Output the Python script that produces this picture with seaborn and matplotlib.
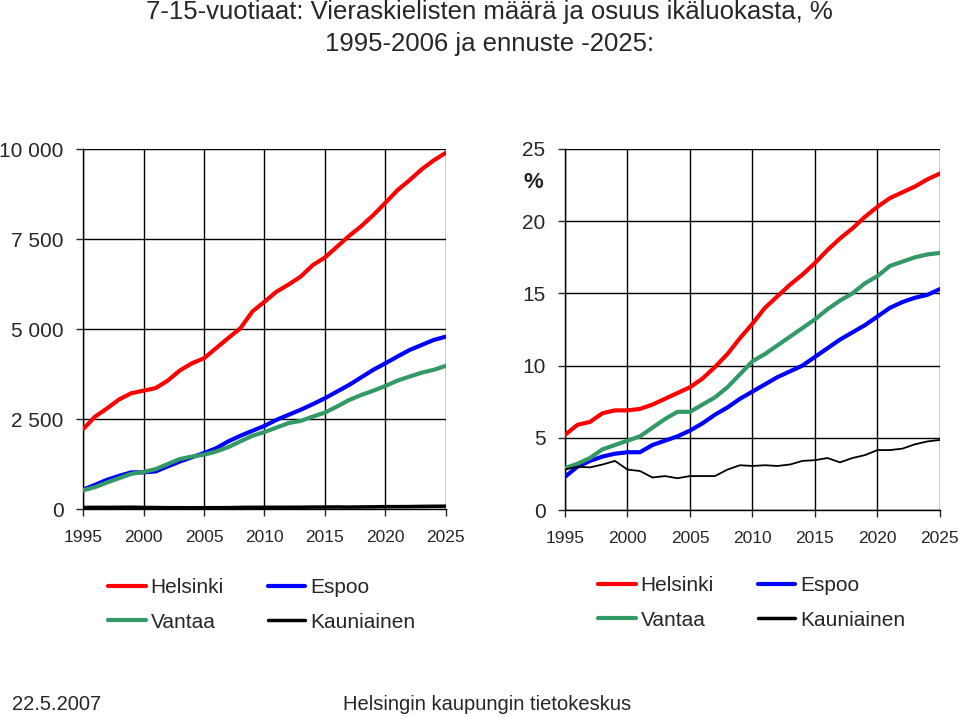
import numpy as np
import pandas as pd
import matplotlib
matplotlib.use("Agg")
import matplotlib.pyplot as plt
import seaborn as sns
from matplotlib.ticker import FuncFormatter

# vuodet
years = list(range(1995, 2026))

# lukumäärät (vasen kuva)
helsinki_n = [2220, 2570, 2800, 3050, 3220, 3290, 3360, 3570, 3850, 4050, 4190,
              4470, 4750, 5020, 5490, 5760, 6040, 6240, 6460, 6780, 6990, 7290,
              7590, 7860, 8170, 8510, 8860, 9140, 9440, 9690, 9900]
espoo_n = [540, 675, 815, 925, 1020, 1020, 1045, 1185, 1320, 1440, 1555, 1690,
           1880, 2035, 2175, 2310, 2480, 2620, 2760, 2915, 3080, 3265, 3450,
           3660, 3870, 4050, 4240, 4420, 4560, 4700, 4790]
vantaa_n = [520, 610, 740, 860, 980, 1030, 1110, 1250, 1390, 1460, 1510, 1600,
            1720, 1880, 2035, 2140, 2265, 2390, 2450, 2570, 2680, 2850, 3030,
            3170, 3290, 3420, 3570, 3680, 3790, 3870, 3980]
kauniainen_n = [45, 48, 47, 50, 53, 45, 44, 38, 39, 37, 39, 39, 40, 46, 50, 50,
                51, 51, 52, 56, 57, 59, 55, 60, 63, 68, 68, 70, 75, 78, 80]

# osuus ikäluokasta, % (oikea kuva)
helsinki_p = [5.2, 5.9, 6.1, 6.7, 6.9, 6.9, 7.0, 7.3, 7.7, 8.1, 8.5, 9.1, 9.9,
              10.8, 11.9, 12.9, 14.0, 14.8, 15.6, 16.3, 17.1, 18.0, 18.8, 19.5,
              20.3, 21.0, 21.6, 22.0, 22.4, 22.9, 23.3]
espoo_p = [2.3, 3.0, 3.4, 3.7, 3.9, 4.0, 4.0, 4.5, 4.8, 5.1, 5.5, 6.0, 6.6, 7.1,
           7.7, 8.2, 8.7, 9.2, 9.6, 10.0, 10.6, 11.2, 11.8, 12.3, 12.8, 13.4,
           14.0, 14.4, 14.7, 14.9, 15.3]
vantaa_p = [2.9, 3.2, 3.6, 4.2, 4.5, 4.8, 5.1, 5.7, 6.3, 6.8, 6.8, 7.3, 7.8,
            8.5, 9.4, 10.3, 10.8, 11.4, 12.0, 12.6, 13.2, 13.9, 14.5, 15.0,
            15.7, 16.2, 16.9, 17.2, 17.5, 17.7, 17.8]
kauniainen_p = [2.8, 3.0, 2.95, 3.15, 3.4, 2.8, 2.7, 2.25, 2.35, 2.2, 2.35,
                2.35, 2.35, 2.8, 3.1, 3.05, 3.1, 3.05, 3.15, 3.4, 3.45, 3.6,
                3.3, 3.6, 3.8, 4.15, 4.15, 4.25, 4.55, 4.75, 4.85]

cities = ['Helsinki', 'Espoo', 'Vantaa', 'Kauniainen']
colors = {'Helsinki': '#ff0000', 'Espoo': '#0000ff',
          'Vantaa': '#339966', 'Kauniainen': '#000000'}


def long_df(series):
    rows = []
    for city, vals in zip(cities, series):
        for y, v in zip(years, vals):
            rows.append((y, v, city))
    return pd.DataFrame(rows, columns=['vuosi', 'arvo', 'kunta'])


df_n = long_df([helsinki_n, espoo_n, vantaa_n, kauniainen_n])
df_p = long_df([helsinki_p, espoo_p, vantaa_p, kauniainen_p])

sns.set_style("white")
plt.rcParams['font.family'] = ['Liberation Sans', 'DejaVu Sans']

fig = plt.figure(figsize=(9.6, 7.17), dpi=100)
ax1 = fig.add_axes([0.0865, 0.290, 0.378, 0.502])
ax2 = fig.add_axes([0.5885, 0.2887, 0.3906, 0.5035])

widths = {'Helsinki': 3.0, 'Espoo': 3.0, 'Vantaa': 3.0, 'Kauniainen': 1.3}

for ax, df in [(ax1, df_n), (ax2, df_p)]:
    sns.lineplot(data=df, x='vuosi', y='arvo', hue='kunta', hue_order=cities,
                 palette=colors, ax=ax, legend=True)
    for line, c in zip(ax.get_lines(), cities):
        line.set_linewidth(widths[c])
        line.set_zorder(3)
    ax.set_xlim(1995, 2025)
    ax.set_xticks(range(1995, 2026, 5))
    ax.grid(True, color='black', linewidth=1.0)
    ax.set_axisbelow(True)
    ax.set_xlabel('')
    ax.set_ylabel('')
    for s in ['top', 'right']:
        ax.spines[s].set_visible(False)
    for s in ['left', 'bottom']:
        ax.spines[s].set_color('black')
        ax.spines[s].set_linewidth(1.0)
    ax.tick_params(axis='x', direction='out', length=5, width=1, pad=10,
                   labelsize=12.5, bottom=True)
    ax.tick_params(axis='y', direction='out', length=5, width=1, pad=9,
                   labelsize=15, left=True)
    ax.get_legend().remove()

# Kauniainen vasemmalla lähes nollassa, paksumpi viiva
ax1.get_lines()[3].set_linewidth(2.5)

ax1.set_ylim(0, 10000)
ax1.set_yticks([0, 2500, 5000, 7500, 10000])
ax1.yaxis.set_major_formatter(FuncFormatter(lambda v, p: f"{int(v):,}".replace(',', ' ')))

ax2.set_ylim(0, 25)
ax2.set_yticks([0, 5, 10, 15, 20, 25])
fig.text(533 / 960, 1 - 183 / 717, '%', fontsize=16, fontweight='bold',
         ha='center', va='center')

# legendan järjestys: rivit Helsinki/Espoo ja Vantaa/Kauniainen
lines = ax1.get_lines()[:4]
order = [0, 2, 1, 3]
handles = [lines[i] for i in order]
labels = [cities[i] for i in order]
for x0, y0 in [(108, 578), (598, 576)]:
    fig.legend(handles, labels, loc='upper left',
               bbox_to_anchor=(x0 / 960, 1 - y0 / 717), ncol=2,
               frameon=False, fontsize=15, handlelength=1.8,
               handletextpad=0.25, columnspacing=2.1, labelspacing=0.75,
               borderpad=0, borderaxespad=0)

fig.text(0.51, 1 - 12 / 717,
         '7-15-vuotiaat: Vieraskielisten määrä ja osuus ikäluokasta, %',
         fontsize=18.5, ha='center', va='center')
fig.text(0.51, 1 - 44 / 717, '1995-2006 ja ennuste -2025:',
         fontsize=18.5, ha='center', va='center')

fig.text(12 / 960, 1 - 705 / 717, '22.5.2007', fontsize=14.5, va='center')
fig.text(343 / 960, 1 - 705 / 717, 'Helsingin kaupungin tietokeskus',
         fontsize=14.5, va='center')

fig.savefig('out.png', dpi=100)
